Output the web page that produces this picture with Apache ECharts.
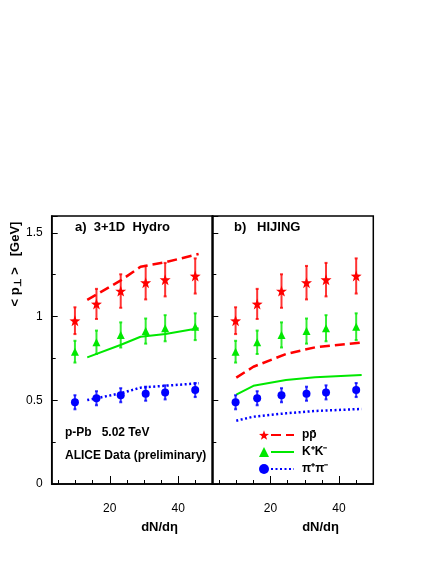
<!DOCTYPE html>
<html>
<head>
<meta charset="utf-8">
<script src="https://cdn.jsdelivr.net/npm/echarts@6/dist/echarts.min.js"></script>
<style>html,body{margin:0;padding:0;background:#fff;}#c{width:440px;height:570px;}</style>
</head>
<body>
<div id="c"></div>
<script>
// ALICE data (preliminary), p-Pb 5.02 TeV
const dNdeta = [9.8, 16.1, 23.2, 30.5, 36.2, 45.0];
const pMean = [0.975, 1.075, 1.152, 1.202, 1.220, 1.242];
const pErr = [0.08, 0.09, 0.10, 0.10, 0.10, 0.105];
const kMean = [0.790, 0.846, 0.890, 0.913, 0.930, 0.939];
const kErr = [0.065, 0.07, 0.075, 0.075, 0.078, 0.08];
const piMean = [0.488, 0.512, 0.530, 0.539, 0.547, 0.561];
const piErr = [0.042, 0.042, 0.042, 0.042, 0.042, 0.042];
// 3+1D Hydro
const hydroX = [13.4, 23.1, 29.0, 36.3, 46.0];
const hydroP = [1.099, 1.214, 1.297, 1.324, 1.373];
const hydroK = [0.756, 0.830, 0.879, 0.896, 0.930];
const hydroPi = [0.501, 0.541, 0.575, 0.587, 0.601];
// HIJING
const hijingX = [10.0, 15.0, 24.5, 33.0, 46.6];
const hijingP = [0.635, 0.700, 0.776, 0.816, 0.844];
const hijingK = [0.533, 0.586, 0.621, 0.637, 0.651];
const hijingPi = [0.378, 0.402, 0.422, 0.436, 0.448];
// axis ticks
const xLabelTicks = [20, 40];
const xMinorTicks = [5, 10, 15, 20, 25, 30, 35, 40, 45];
const legendNames = ['pp\u0304', 'K\u207AK\u207B', '\u03C0\u207A\u03C0\u207B'];

const RED = '#ff0000', GREEN = '#00e800', BLUE = '#0000ff';
const STAR = 'path://M0,-10L2.35,-3.24L9.51,-3.09L3.8,1.24L5.88,8.09L0,4.2L-5.88,8.09L-3.8,1.24L-9.51,-3.09L-2.35,-3.24Z';
const FONT = '"Liberation Sans", Arial, Helvetica, sans-serif';

const zip = (xs, ys) => xs.map((x, i) => [x, ys[i]]);
const errData = (m, e) => dNdeta.map((x, i) => [x, m[i] - e[i], m[i] + e[i]]);

function errSeries(name, m, e, color, xi, yi) {
  return {
    type: 'custom', name: name, xAxisIndex: xi, yAxisIndex: yi, z: 3,
    data: errData(m, e), encode: {x: 0, y: [1, 2]},
    renderItem: function (params, api) {
      const x = api.value(0);
      const top = api.coord([x, api.value(2)]);
      const bot = api.coord([x, api.value(1)]);
      const st = {stroke: color, lineWidth: 2, opacity: 0.8};
      return {type: 'group', children: [
        {type: 'line', shape: {x1: top[0], y1: top[1], x2: bot[0], y2: bot[1]}, style: st},
        {type: 'line', shape: {x1: top[0] - 1.5, y1: top[1], x2: top[0] + 1.5, y2: top[1]}, style: st},
        {type: 'line', shape: {x1: bot[0] - 1.5, y1: bot[1], x2: bot[0] + 1.5, y2: bot[1]}, style: st}
      ]};
    }
  };
}
function markSeries(name, m, symbol, size, color, xi, yi) {
  return {type: 'scatter', name: name, xAxisIndex: xi, yAxisIndex: yi, z: 4,
    data: zip(dNdeta, m), symbol: symbol, symbolSize: size,
    itemStyle: {color: color, opacity: 1}, silent: true};
}
function lineSeries(name, xs, ys, color, type, width, xi, yi) {
  return {type: 'line', name: name, xAxisIndex: xi, yAxisIndex: yi, z: 2,
    data: zip(xs, ys), symbol: 'none', smooth: false,
    lineStyle: {color: color, type: type, width: width}, itemStyle: {color: color}};
}

const series = [];
[[0, 0], [2, 1]].forEach(([xi, yi]) => {
  series.push(errSeries('pe' + xi, pMean, pErr, RED, xi, yi));
  series.push(errSeries('ke' + xi, kMean, kErr, GREEN, xi, yi));
  series.push(errSeries('pie' + xi, piMean, piErr, BLUE, xi, yi));
  series.push(markSeries('p data', pMean, STAR, 11, RED, xi, yi));
  series.push(markSeries('K data', kMean, 'triangle', 8, GREEN, xi, yi));
  series.push(markSeries('\u03C0 data', piMean, 'circle', 8, BLUE, xi, yi));
});
series.push(lineSeries(legendNames[0], hydroX, hydroP, RED, [10, 5], 2.5, 0, 0));
series.push(lineSeries(legendNames[1], hydroX, hydroK, GREEN, 'solid', 2, 0, 0));
series.push(lineSeries(legendNames[2], hydroX, hydroPi, BLUE, [2, 2.5], 2.5, 0, 0));
series.push(lineSeries(legendNames[0], hijingX, hijingP, RED, [10, 5], 2.5, 2, 1));
series.push(lineSeries(legendNames[1], hijingX, hijingK, GREEN, 'solid', 2, 2, 1));
series.push(lineSeries(legendNames[2], hijingX, hijingPi, BLUE, [2, 2.5], 2.5, 2, 1));

function xAxes(gi, major) {
  return {
    type: 'value', gridIndex: gi, min: 3, max: 50, position: 'bottom',
    axisLine: {show: major, lineStyle: {color: '#000', width: 1.5}},
    axisTick: {show: true, inside: true, length: major ? 8 : 4,
      customValues: major ? xLabelTicks : xMinorTicks, lineStyle: {color: '#000', width: 1}},
    axisLabel: {show: major, customValues: xLabelTicks, margin: 19,
      color: '#000', fontSize: 12, fontFamily: FONT},
    splitLine: {show: false}
  };
}
function yAx(gi, labels) {
  return {
    type: 'value', gridIndex: gi, min: 0, max: 1.6, interval: 0.5,
    axisLine: {show: true, lineStyle: {color: '#000', width: 1.5}},
    axisTick: {show: true, inside: true, length: 6, lineStyle: {color: '#000'}},
    minorTick: {show: true, splitNumber: 2, length: 4, lineStyle: {color: '#000'}},
    axisLabel: {show: labels, margin: 9, color: '#000', fontSize: 12, fontFamily: FONT,
      showMaxLabel: false},
    splitLine: {show: false}
  };
}

const boldText = (txt, x, y, size, align) => ({
  type: 'text', x: x, y: y,
  style: {text: txt, fill: '#000', font: 'bold ' + size + 'px ' + FONT,
    textAlign: align || 'left', textVerticalAlign: 'middle'}
});

const option = {
  animation: false,
  backgroundColor: '#fff',
  grid: [
    {left: 51.7, top: 216, width: 160.6, height: 268, show: true, borderColor: '#000', borderWidth: 1.5},
    {left: 212.3, top: 216, width: 161, height: 268, show: true, borderColor: '#000', borderWidth: 1.5}
  ],
  xAxis: [xAxes(0, false), xAxes(0, true), xAxes(1, false), xAxes(1, true)],
  yAxis: [yAx(0, true), yAx(1, false)],
  legend: [
    {data: ['p data', 'K data', '\u03C0 data'], orient: 'vertical', left: 259, top: 426.5,
      padding: 0, itemGap: 0, itemWidth: 10, itemHeight: 10, selectedMode: false,
      formatter: () => ' ', textStyle: {fontSize: 12, lineHeight: 17}},
    {data: legendNames, orient: 'vertical', left: 270, top: 426.5,
      padding: 0, itemGap: 0, itemWidth: 23, itemHeight: 10, selectedMode: false,
      itemStyle: {color: 'rgba(0,0,0,0)', borderColor: 'rgba(0,0,0,0)', borderWidth: 0, opacity: 0},
      textStyle: {fontSize: 12, lineHeight: 17, fontWeight: 'bold', color: '#000', fontFamily: FONT,
        padding: [0, 0, 0, 3]}}
  ],
  graphic: [
    boldText('a)  3+1D  Hydro', 75, 227, 13),
    boldText('b)   HIJING', 234, 227, 13),
    boldText('p-Pb   5.02 TeV', 65, 433, 12),
    boldText('ALICE Data (preliminary)', 65, 456, 12),
    boldText('dN/d\u03B7', 178, 527, 13, 'right'),
    boldText('dN/d\u03B7', 339, 527, 13, 'right'),
    {type: 'text', x: 15, y: 264, rotation: Math.PI / 2,
      style: {text: '< p{s|\u22A5} >   [GeV]', fill: '#000', font: 'bold 13px ' + FONT,
        textAlign: 'center', textVerticalAlign: 'middle',
        rich: {s: {fontSize: 10, fontWeight: 'bold', fontFamily: FONT, padding: [6, 0, 0, 0]}}}}
  ],
  series: series
};

const chart = echarts.init(document.getElementById('c'), null, {renderer: 'canvas'});
chart.setOption(option);
</script>
</body>
</html>
